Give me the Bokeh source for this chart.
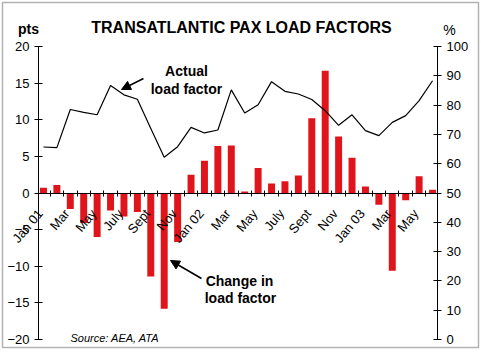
import math
from bokeh.plotting import figure
from bokeh.models import (Range1d, LinearAxis, Label, Arrow, NormalHead, BoxAnnotation,
                          ColumnDataSource, FixedTicker)
from bokeh.embed import file_html
from bokeh.resources import INLINE

# ---- data -------------------------------------------------------------
months = ["Jan 01", "Feb 01", "Mar 01", "Apr 01", "May 01", "Jun 01", "Jul 01", "Aug 01",
          "Sep 01", "Oct 01", "Nov 01", "Dec 01", "Jan 02", "Feb 02", "Mar 02", "Apr 02",
          "May 02", "Jun 02", "Jul 02", "Aug 02", "Sep 02", "Oct 02", "Nov 02", "Dec 02",
          "Jan 03", "Feb 03", "Mar 03", "Apr 03", "May 03", "Jun 03"]
change_pts = [0.7, 1.1, -2.2, -4.1, -6.0, -2.4, -3.2, -2.6, -11.4, -15.8, -6.7, 2.5,
              4.4, 6.4, 6.5, 0.2, 3.4, 1.3, 1.6, 2.4, 10.2, 16.7, 7.7, 4.8,
              0.9, -1.6, -10.6, -1.0, 2.3, 0.45]
load_factor_pct = [65.7, 65.5, 78.5, 77.5, 76.7, 86.7, 83.5, 82.0, 72.0, 62.2, 65.8, 72.4,
                   70.5, 71.5, 85.2, 77.3, 80.1, 88.0, 84.7, 83.8, 81.9, 78.1, 73.1, 76.7,
                   71.3, 69.6, 74.1, 76.4, 81.5, 88.3]
tick_labels = ["Jan 01", "Mar", "May", "July", "Sept", "Nov", "Jan 02", "Mar", "May",
               "July", "Sept", "Nov", "Jan 03", "Mar", "May"]
pts_ticks = [-20, -15, -10, -5, 0, 5, 10, 15, 20]
pct_ticks = [0, 10, 20, 30, 40, 50, 60, 70, 80, 90, 100]

FONT = "Liberation Sans"
RED = "#E0141B"

# ---- layout geometry (pixels) ------------------------------------------
W, H = 481, 352
AX_L, AX_R, AX_T, AX_B = 38, 437, 46, 339      # where the axes sit on the canvas
X0, X1 = -0.37, 29.37                          # month index at the left/right axis
px_x = (AX_R - AX_L) / (X1 - X0)
px_y = (AX_B - AX_T) / (pts_ticks[-1] - pts_ticks[0])
x_range = Range1d(X0 - AX_L / px_x, X1 + (W - AX_R) / px_x)
y_range = Range1d(pts_ticks[0] - (H - AX_B) / px_y, pts_ticks[-1] + AX_T / px_y)

def to_pct(v):  # left scale (pts) -> right scale (%)
    return 50 + 2.5 * v

def dx(px):
    return x_range.start + px / px_x

def dy(py):
    return y_range.end - py / px_y

idx = list(range(len(months)))
src = ColumnDataSource(dict(i=idx, month=months, chg=change_pts, lf=load_factor_pct))

p = figure(width=W, height=H, x_range=x_range, y_range=y_range,
           output_backend="svg", toolbar_location=None, x_axis_type=None, y_axis_type=None,
           min_border=0, min_border_left=0, min_border_right=0, min_border_top=0,
           min_border_bottom=0)
p.outline_line_color = None
p.grid.visible = False
p.background_fill_color = "white"
p.border_fill_color = "white"
p.extra_y_ranges = {"pct": Range1d(to_pct(y_range.start), to_pct(y_range.end))}

def style_axis(ax, size="13px"):
    ax.axis_line_color = "black"
    ax.axis_line_width = 1
    ax.major_tick_line_color = "black"
    ax.major_tick_in = 4
    ax.major_tick_out = 4
    ax.minor_tick_line_color = None
    ax.major_label_standoff = 5
    ax.major_label_text_font = FONT
    ax.major_label_text_font_size = size
    ax.major_label_text_color = "black"

left = LinearAxis(fixed_location=X0, bounds=(pts_ticks[0], pts_ticks[-1]),
                  ticker=FixedTicker(ticks=pts_ticks))
style_axis(left)
p.add_layout(left, "left")

right = LinearAxis(y_range_name="pct", fixed_location=X1, bounds=(pct_ticks[0], pct_ticks[-1]),
                   ticker=FixedTicker(ticks=pct_ticks))
style_axis(right)
p.add_layout(right, "right")

# month axis on the zero line: labels every second month, ticks between months
label_pos = [i - 0.25 for i in idx[::2]]
boundaries = [i + 0.5 for i in idx[:-1]]
xax = LinearAxis(fixed_location=0, bounds=(X0, X1),
                 ticker=FixedTicker(ticks=label_pos, minor_ticks=boundaries),
                 major_label_overrides={k: t for k, t in zip(label_pos, tick_labels)},
                 major_label_orientation=math.radians(50))
style_axis(xax, size="13px")
xax.major_tick_line_color = None
xax.minor_tick_line_color = "black"
xax.minor_tick_in = 3
xax.minor_tick_out = 3
xax.major_label_standoff = 14
xax.level = "overlay"
p.add_layout(xax, "below")

# bars and line
p.vbar(x="i", top="chg", width=0.52, source=src, fill_color=RED, line_color=None)
p.line(x="i", y="lf", y_range_name="pct", source=src, line_color="black", line_width=1.2)

def label(px, py, text, size="14px", style="bold", align="center"):
    p.add_layout(Label(x=dx(px), y=dy(py), text=text, text_font=FONT, text_font_size=size,
                       text_font_style=style, text_align=align, text_baseline="alphabetic",
                       text_color="black"))

# annotations
label(186, 70, "Actual")
label(186, 88, "load factor")
label(239, 280, "Change in")
label(240, 297, "load factor")
label(70, 337, "Source: AEA, ATA", size="11px", style="italic", align="left")

def arrow(px0, py0, px1, py1):
    p.add_layout(Arrow(end=NormalHead(size=9, fill_color="black", line_color="black"),
                       x_start=dx(px0), y_start=dy(py0), x_end=dx(px1), y_end=dy(py1),
                       line_color="black", line_width=1.5))

arrow(143, 78, 121, 89)
arrow(201, 278, 170, 260)

# title and unit labels
label(241, 27, "TRANSATLANTIC PAX LOAD FACTORS", size="16px")
label(28, 28.5, "pts", size="14px")
label(449, 29.5, "%", size="14px", style="normal")

# outer border
p.add_layout(BoxAnnotation(left=dx(2), right=dx(478), top=dy(2), bottom=dy(347),
                           fill_alpha=0, line_color="black", line_width=1.5))

open("out.html", "w").write(file_html(p, INLINE))
